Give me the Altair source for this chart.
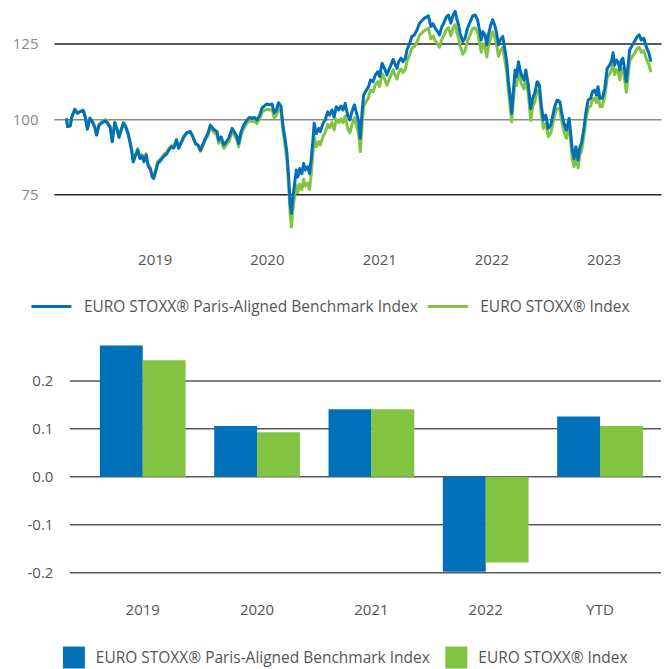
import altair as alt
import pandas as pd

PARIS = "EURO STOXX® Paris-Aligned Benchmark Index"
EURO = "EURO STOXX® Index"
BLUE = "#0070B8"
GREEN = "#82C341"

dates_dec = [
    2018.214, 2018.223, 2018.247, 2018.261, 2018.288, 2018.312, 2018.336, 2018.362, 2018.380, 2018.401,
    2018.424, 2018.445, 2018.466, 2018.484, 2018.505, 2018.534, 2018.564, 2018.585, 2018.603, 2018.623,
    2018.644, 2018.668, 2018.683, 2018.703, 2018.721, 2018.742, 2018.763, 2018.780, 2018.795, 2018.810,
    2018.831, 2018.852, 2018.869, 2018.890, 2018.905, 2018.926, 2018.944, 2018.964, 2018.979, 2018.994,
    2019.009, 2019.030, 2019.053, 2019.083, 2019.107, 2019.127, 2019.148, 2019.172, 2019.196, 2019.216,
    2019.237, 2019.261, 2019.290, 2019.320, 2019.344, 2019.365, 2019.388, 2019.409, 2019.433, 2019.454,
    2019.474,
    2019.498, 2019.528, 2019.557, 2019.572, 2019.593, 2019.617, 2019.640, 2019.661, 2019.691, 2019.712,
    2019.735, 2019.750, 2019.771, 2019.795, 2019.824, 2019.848, 2019.869, 2019.889, 2019.913, 2019.937,
    2019.958, 2019.978, 2020.002, 2020.026, 2020.047, 2020.067, 2020.085, 2020.106, 2020.127, 2020.145,
    2020.165, 2020.180, 2020.195, 2020.204, 2020.210, 2020.219, 2020.231, 2020.245, 2020.263, 2020.278,
    2020.293, 2020.314, 2020.328, 2020.343, 2020.364, 2020.382, 2020.394, 2020.411, 2020.423, 2020.441,
    2020.462, 2020.477, 2020.500, 2020.521, 2020.542, 2020.560, 2020.580, 2020.601, 2020.619, 2020.640,
    2020.661, 2020.678, 2020.699, 2020.720, 2020.738, 2020.758, 2020.779, 2020.797, 2020.818, 2020.833,
    2020.848, 2020.862, 2020.886, 2020.907,
    2020.922, 2020.946, 2020.966, 2020.987, 2021.005, 2021.026, 2021.047, 2021.070, 2021.085, 2021.106,
    2021.124, 2021.144, 2021.159, 2021.174, 2021.195, 2021.213, 2021.233, 2021.248, 2021.272, 2021.293,
    2021.313, 2021.337, 2021.361, 2021.382, 2021.402, 2021.420, 2021.441, 2021.462, 2021.480, 2021.500,
    2021.521, 2021.539, 2021.560, 2021.580, 2021.598, 2021.619, 2021.640, 2021.658, 2021.678, 2021.693,
    2021.708, 2021.723, 2021.746, 2021.767, 2021.788, 2021.812, 2021.835, 2021.856, 2021.877, 2021.895,
    2021.910, 2021.924, 2021.945, 2021.960, 2021.975, 2021.996, 2022.013, 2022.034, 2022.049, 2022.064,
    2022.079, 2022.102, 2022.123, 2022.138, 2022.153, 2022.168, 2022.182, 2022.197, 2022.212, 2022.227,
    2022.242,
    2022.256, 2022.271, 2022.292, 2022.309, 2022.330, 2022.351, 2022.369, 2022.389, 2022.410, 2022.428,
    2022.449, 2022.464, 2022.487, 2022.508, 2022.529, 2022.547, 2022.567, 2022.588, 2022.612, 2022.627,
    2022.647, 2022.671, 2022.695, 2022.707, 2022.725, 2022.739, 2022.754, 2022.775, 2022.790, 2022.805,
    2022.825, 2022.843, 2022.864, 2022.885, 2022.903, 2022.923, 2022.938, 2022.953, 2022.968, 2022.991,
    2023.012, 2023.033, 2023.057, 2023.075, 2023.086, 2023.101, 2023.116, 2023.134, 2023.146, 2023.160,
    2023.175, 2023.190, 2023.205, 2023.220, 2023.235, 2023.258, 2023.279, 2023.300, 2023.318, 2023.338,
    2023.359, 2023.377, 2023.392, 2023.407, 2023.422,
]

paris_level = [
    100.2, 97.5, 97.7, 100.6, 103.2, 101.9, 102.4, 102.8, 101.0, 96.6,
    100.2, 99.1, 97.2, 94.7, 98.0, 98.8, 99.4, 98.4, 97.2, 92.5,
    98.8, 96.3, 93.9, 96.3, 98.6, 97.5, 95.2, 92.5, 89.5, 85.8,
    88.0, 89.7, 86.9, 87.7, 85.8, 88.0, 84.4, 83.3, 80.8, 80.3,
    82.5, 85.3, 86.2, 87.7, 88.4, 89.7, 90.8, 90.3, 93.0, 90.3,
    92.1, 94.1, 95.5, 95.8, 93.9, 91.9, 91.4, 89.7, 91.9, 93.6,
    95.2,
    98.0, 96.6, 95.8, 93.0, 94.1, 91.4, 92.5, 93.6, 96.9, 95.8,
    94.1, 91.9, 95.8, 98.0, 99.7, 100.6, 100.2, 100.6, 99.7, 101.3,
    103.6, 104.3, 105.0, 104.7, 105.0, 102.1, 103.0, 105.4, 104.3, 97.5,
    93.0, 89.1, 80.8, 75.3, 72.0, 68.7, 73.1, 77.5, 83.1, 80.8,
    83.6, 81.9, 85.3, 83.1, 84.2, 81.9, 86.4, 93.0, 98.6, 95.2,
    96.9, 95.8, 98.6, 99.7, 102.4, 101.3, 103.0, 100.6, 104.1, 103.0,
    104.3, 103.0, 105.2, 101.3, 99.7, 102.4, 104.7, 102.4, 99.1, 93.6,
    102.4, 108.0, 109.6, 110.7,
    112.9, 112.4, 114.6, 115.7, 114.1, 118.5, 116.8, 114.6, 116.3, 117.9,
    119.8, 117.9, 116.8, 119.0, 120.2, 119.0, 120.2, 122.9, 125.1, 127.4,
    127.9, 129.6, 131.8, 132.7, 133.4, 133.8, 134.2, 130.7, 131.6, 130.1,
    129.0, 127.9, 130.7, 132.0, 133.8, 134.5, 131.8, 134.5, 135.7, 133.4,
    131.2, 128.5, 125.7, 126.8, 130.1, 132.3, 134.2, 134.5, 132.9, 129.6,
    126.2, 129.0, 127.9, 124.6, 127.9, 131.2, 132.9, 130.7, 128.5, 124.6,
    126.2, 127.4, 122.9, 119.0, 112.9, 107.4, 101.9, 108.5, 116.3, 114.1,
    119.0,
    116.5, 114.6, 112.9, 116.3, 111.3, 103.5, 106.9, 108.5, 112.4, 111.3,
    104.1, 99.7, 101.3, 96.9, 98.0, 100.8, 104.1, 106.3, 105.7, 102.4,
    98.6, 96.3, 100.2, 95.2, 89.1, 86.9, 90.8, 86.4, 90.8, 91.9,
    96.9, 101.9, 106.3, 106.9, 109.1, 109.6, 108.0, 110.7, 106.9, 106.9,
    110.2, 116.8, 117.9, 119.6, 122.0, 117.9, 119.6, 118.7, 116.3, 119.6,
    120.2, 116.3, 112.4, 117.9, 122.9, 124.6, 125.7, 127.3, 127.9, 126.2,
    126.8, 124.6, 122.9, 121.8, 119.0,
]

euro_level = [
    100.2, 97.6, 97.8, 100.7, 103.3, 102.0, 102.6, 103.0, 101.2, 96.8,
    100.4, 99.3, 97.4, 94.9, 98.2, 99.2, 99.8, 98.7, 97.5, 92.8,
    99.0, 96.6, 94.2, 96.6, 98.9, 97.8, 95.6, 93.0, 90.0, 86.3,
    88.5, 90.2, 87.4, 88.2, 86.3, 88.5, 84.9, 83.8, 81.3, 80.9,
    83.1, 85.9, 86.8, 88.3, 89.0, 90.2, 91.2, 90.7, 93.3, 90.6,
    92.3, 94.3, 95.6, 95.8, 93.8, 91.7, 91.1, 89.3, 91.4, 93.0,
    94.5,
    97.2, 95.7, 94.8, 92.0, 93.1, 90.3, 91.4, 92.5, 95.8, 94.7,
    93.0, 90.8, 94.7, 96.9, 98.6, 99.5, 99.1, 99.4, 98.5, 100.0,
    102.2, 102.8, 103.3, 103.0, 103.2, 100.3, 101.2, 103.5, 102.3, 95.4,
    90.7, 86.5, 77.8, 71.8, 68.2, 64.2, 69.0, 73.5, 78.0, 75.6,
    78.4, 76.6, 80.0, 77.8, 78.8, 76.6, 81.2, 88.6, 94.2, 90.8,
    92.5, 91.4, 94.3, 95.5, 98.2, 97.1, 98.8, 96.4, 99.9, 98.8,
    100.1, 98.8, 101.0, 97.0, 95.4, 98.1, 100.4, 98.1, 94.8, 89.2,
    98.3, 104.2, 105.9, 107.1,
    109.6, 109.1, 111.3, 112.4, 110.8, 115.1, 113.4, 111.2, 112.9, 114.5,
    116.3, 114.4, 113.3, 115.5, 116.6, 115.4, 116.5, 119.2, 121.3, 123.5,
    124.0, 125.6, 127.8, 128.6, 129.3, 129.7, 130.1, 126.6, 127.5, 126.0,
    124.9, 123.8, 126.6, 127.9, 129.6, 130.3, 127.6, 130.2, 131.3, 129.0,
    126.9, 124.2, 121.5, 122.6, 125.9, 128.1, 130.0, 130.3, 128.8, 125.5,
    122.2, 125.0, 123.9, 120.6, 123.9, 127.2, 128.9, 126.8, 124.6, 120.8,
    122.4, 123.7, 119.3, 115.5, 109.6, 104.2, 99.1, 105.6, 113.3, 111.1,
    116.0,
    113.5, 111.6, 110.0, 113.4, 108.4, 99.5, 104.0, 105.6, 109.5, 108.4,
    101.3, 96.9, 98.6, 94.2, 95.3, 98.1, 101.4, 103.6, 103.0, 99.7,
    95.9, 93.6, 97.5, 92.5, 86.4, 84.2, 88.1, 83.8, 88.2, 89.3,
    94.3, 99.3, 103.7, 104.3, 106.5, 107.0, 105.4, 108.0, 104.2, 104.2,
    107.4, 113.9, 114.9, 116.5, 118.8, 114.7, 116.4, 115.4, 113.0, 116.2,
    116.8, 112.8, 108.9, 114.3, 119.2, 120.8, 121.8, 123.3, 123.8, 122.1,
    122.7, 120.6, 119.0, 118.0, 115.6,
]

year_ticks = [2019, 2020, 2021, 2022, 2023]

bar_categories = ["2019", "2020", "2021", "2022", "YTD"]
bar_paris = [0.274, 0.106, 0.141, -0.198, 0.126]
bar_euro = [0.243, 0.093, 0.141, -0.179, 0.106]
bar_ticks = [-0.2, -0.1, 0.0, 0.1, 0.2]


def dec_to_date(y):
    yr = int(y)
    start = pd.Timestamp(yr, 1, 1)
    ndays = (pd.Timestamp(yr + 1, 1, 1) - start).days
    return (start + pd.Timedelta(days=(y - yr) * ndays)).strftime("%Y/%m/%d")


dates = [dec_to_date(d) for d in dates_dec]
line_paris = pd.DataFrame({"date": dates, "value": paris_level, "series": PARIS})
line_euro = pd.DataFrame({"date": dates, "value": euro_level, "series": EURO})

series_domain = [PARIS, EURO]
color_scale = alt.Scale(domain=series_domain, range=[BLUE, GREEN])
LEG_FS = 15.5
W = 608

top_legend = alt.Legend(
    title=None, orient="none", direction="horizontal", legendX=-24, legendY=275,
    symbolType="stroke", symbolSize=1600, symbolStrokeWidth=3,
    labelFontSize=LEG_FS, labelColor="#555555", labelOffset=11, columnPadding=3,
    labelFont="Open Sans", labelLimit=500,
)

x_top = alt.X(
    "date:T",
    scale=alt.Scale(domain=[alt.DateTime(year=2018, month=2, date=7),
                            alt.DateTime(year=2023, month=7, date=7)]),
    axis=alt.Axis(
        title=None, grid=False, domain=False, ticks=False, format="%Y",
        values=[alt.DateTime(year=y, month=1, date=1) for y in year_ticks],
        labelPadding=13, labelColor="#555555", labelFontSize=15,
    ),
)
y_top = alt.Y(
    "value:Q",
    scale=alt.Scale(domain=[60, 136], nice=False, zero=False),
    axis=alt.Axis(
        title=None, values=[75, 100, 125], domain=False, ticks=False,
        labelPadding=16, labelColor="#888888", labelFontSize=15,
        grid=True, gridWidth=1.5,
        gridColor={"condition": {"test": "datum.value === 100", "value": "#8a8a8a"},
                   "value": "#222222"},
    ),
)

green_line = alt.Chart(line_euro).mark_line(strokeWidth=3, strokeJoin="round").encode(
    x=x_top, y=y_top,
    color=alt.Color("series:N", scale=color_scale, legend=top_legend),
)
blue_line = alt.Chart(line_paris).mark_line(strokeWidth=3, strokeJoin="round").encode(
    x=x_top, y=y_top,
    color=alt.Color("series:N", scale=color_scale, legend=top_legend),
)
top = alt.layer(green_line, blue_line).properties(width=W, height=229.5)

bars_df = pd.DataFrame({
    "category": bar_categories * 2,
    "series": [PARIS] * 5 + [EURO] * 5,
    "value": bar_paris + bar_euro,
})
grid_df = pd.DataFrame({"tick": bar_ticks})

grid_rules = alt.Chart(grid_df).mark_rule(color="#5a5a5a", strokeWidth=1.5).encode(
    y=alt.Y("tick:Q", scale=alt.Scale(domain=[-0.25, 0.3], nice=False)),
    x=alt.value(16), x2=alt.value(W),
)
bars = alt.Chart(bars_df).mark_bar().encode(
    x=alt.X(
        "category:N",
        scale=alt.Scale(domain=bar_categories, paddingInner=0.25, paddingOuter=0.28, align=0.7176),
        axis=alt.Axis(title=None, domain=False, ticks=False, labelAngle=0, labelPadding=6,
                      labelColor="#555555", labelFontSize=15),
    ),
    xOffset=alt.XOffset("series:N", scale=alt.Scale(domain=series_domain, paddingInner=0, paddingOuter=0)),
    y=alt.Y(
        "value:Q",
        scale=alt.Scale(domain=[-0.25, 0.3], nice=False),
        axis=alt.Axis(title=None, values=bar_ticks, grid=False, domain=False, ticks=False,
                      labelPadding=1, labelColor="#555555", labelFontSize=15,
                      labelExpr="replace(format(datum.value, '.1f'), '\u2212', '-')"),
    ),
    color=alt.Color("series:N", scale=alt.Scale(domain=series_domain, range=[BLUE, GREEN]),
                    legend=alt.Legend(
                        title=None, orient="none", direction="horizontal", legendX=9, legendY=314,
                        symbolType="square", symbolSize=484, symbolStrokeWidth=0,
                        labelFontSize=LEG_FS, labelColor="#555555", labelOffset=11, columnPadding=15,
                        labelFont="Open Sans", labelLimit=500,
                    )),
)
bottom = alt.layer(grid_rules, bars).properties(width=W, height=264)

chart = alt.vconcat(top, bottom, spacing=18).resolve_scale(color="independent").resolve_legend(
    color="independent"
).properties(
    padding={"left": 4, "top": 1, "right": 0, "bottom": 0}
).configure(font="Open Sans").configure_view(stroke=None).configure_axis(
    labelFont="Open Sans"
)

chart.save("out.html", embed_options={"renderer": "svg", "actions": False})
